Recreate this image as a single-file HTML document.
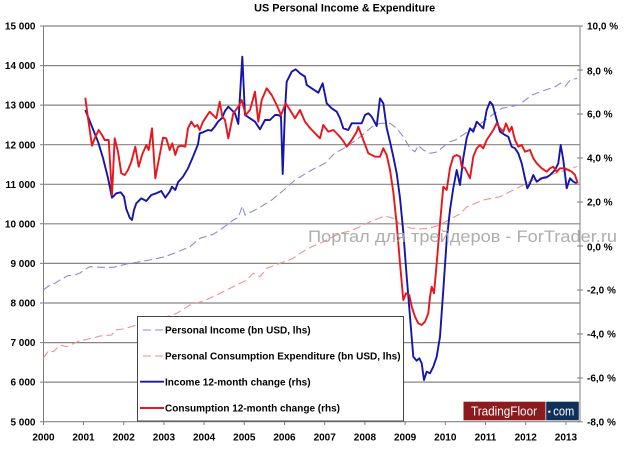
<!DOCTYPE html>
<html><head><meta charset="utf-8"><style>
html,body{margin:0;padding:0;background:#fff;}
svg{display:block;}
text{font-family:"Liberation Sans",Arial,sans-serif;}
</style></head><body>
<svg width="624" height="451" viewBox="0 0 624 451" xmlns="http://www.w3.org/2000/svg">
<rect width="624" height="451" fill="#fff"/>
<text x="344.7" y="11.5" font-size="10.8" font-weight="bold" text-anchor="middle" textLength="181" lengthAdjust="spacingAndGlyphs" fill="#000">US Personal Income &amp; Expenditure</text>
<g stroke="#858585" stroke-width="1.2" fill="none">
<line x1="43.5" y1="26" x2="580" y2="26"/>
<line x1="43.5" y1="65.6" x2="580" y2="65.6"/>
<line x1="43.5" y1="105.1" x2="580" y2="105.1"/>
<line x1="43.5" y1="144.7" x2="580" y2="144.7"/>
<line x1="43.5" y1="184.3" x2="580" y2="184.3"/>
<line x1="43.5" y1="223.8" x2="580" y2="223.8"/>
<line x1="43.5" y1="263.4" x2="580" y2="263.4"/>
<line x1="43.5" y1="303" x2="580" y2="303"/>
<line x1="43.5" y1="342.6" x2="580" y2="342.6"/>
<line x1="43.5" y1="382.1" x2="580" y2="382.1"/>
<line x1="43.5" y1="421.7" x2="580" y2="421.7"/>
</g>
<g stroke="#808080" stroke-width="1" fill="none">
<line x1="43.5" y1="26" x2="43.5" y2="421.7"/>
<line x1="580" y1="26" x2="580" y2="421.7"/>
<path d="M40 26H43.5M40 65.6H43.5M40 105.1H43.5M40 144.7H43.5M40 184.3H43.5M40 223.8H43.5M40 263.4H43.5M40 303H43.5M40 342.6H43.5M40 382.1H43.5M40 421.7H43.5"/>
<path d="M577 26H583M577 70H583M577 114H583M577 158H583M577 202H583M577 246H583M577 290H583M577 334H583M577 378H583M577 421.7H583"/>
<path d="M43.5 421.7V425M83.5 421.7V425M123.7 421.7V425M163.9 421.7V425M204.1 421.7V425M244.3 421.7V425M284.5 421.7V425M324.7 421.7V425M364.9 421.7V425M405.1 421.7V425M445.3 421.7V425M485.5 421.7V425M525.7 421.7V425M565.9 421.7V425"/>
</g>
<g font-size="10" font-weight="bold" fill="#000" text-anchor="end">
<text x="35.5" y="29.6">15 000</text>
<text x="35.5" y="69.2">14 000</text>
<text x="35.5" y="108.7">13 000</text>
<text x="35.5" y="148.3">12 000</text>
<text x="35.5" y="187.9">11 000</text>
<text x="35.5" y="227.4">10 000</text>
<text x="35.5" y="267">9 000</text>
<text x="35.5" y="306.6">8 000</text>
<text x="35.5" y="346.2">7 000</text>
<text x="35.5" y="385.7">6 000</text>
<text x="35.5" y="425.3">5 000</text>
</g>
<g font-size="10" font-weight="bold" fill="#000">
<text x="587" y="29.6">10,0 %</text>
<text x="587" y="74.6">8,0 %</text>
<text x="587" y="117.3">6,0 %</text>
<text x="587" y="161.3">4,0 %</text>
<text x="587" y="205.3">2,0 %</text>
<text x="587" y="250.3">0,0 %</text>
<text x="587" y="293.6">-2,0 %</text>
<text x="587" y="337.6">-4,0 %</text>
<text x="587" y="381.3">-6,0 %</text>
<text x="587" y="425.3">-8,0 %</text>
</g>
<g font-size="10" font-weight="bold" fill="#000" text-anchor="middle">
<text x="43.5" y="440.3">2000</text>
<text x="83.5" y="440.3">2001</text>
<text x="123.7" y="440.3">2002</text>
<text x="163.9" y="440.3">2003</text>
<text x="204.1" y="440.3">2004</text>
<text x="244.3" y="440.3">2005</text>
<text x="284.5" y="440.3">2006</text>
<text x="324.7" y="440.3">2007</text>
<text x="364.9" y="440.3">2008</text>
<text x="405.1" y="440.3">2009</text>
<text x="445.3" y="440.3">2010</text>
<text x="485.5" y="440.3">2011</text>
<text x="525.7" y="440.3">2012</text>
<text x="565.9" y="440.3">2013</text>
</g>
<polyline fill="none" stroke="#8c8cd8" stroke-width="1.1" stroke-dasharray="8,4" points="43.3,290 50,285 55,283.3 60,280 68.3,275.5 75,275 80,273 86.7,268.3 90,266.7 100,267.3 113.3,267.3 126.7,264 140,261.7 153.3,259.3 165,256.7 176.7,252.3 190,246.7 200,238.3 213.3,234.3 220,230 226.7,225 233.3,220 238.3,217.5 242.3,206 245,215 258.3,208.3 271.7,200 283.3,190.5 295,180 311.7,170 325,163.3 335,153 346.7,146.7 360,137 371.7,127 380,123.3 390,123.3 396.7,128.3 403.3,136.7 410,148.3 415,151.7 418.3,145.5 423.3,150 430,153.3 436.7,152 443.3,146.7 450,141.7 455.3,140 465.3,133.3 478.7,125 492,115 502,108.3 518.7,105 525.3,100 532,95 545.3,90 555.3,86.7 560.3,83.3 565.3,86 570.3,80 577,78.3"/>
<polyline fill="none" stroke="#f09090" stroke-width="1.1" stroke-dasharray="8,4" points="43.3,358.3 48.3,351 53.3,351.7 60,345 66.7,346.7 80,340.7 93.3,338 100,336 111.7,335 115,330 123.3,329 136.7,325 150,320 166.7,316.7 176.7,313.3 190,305 203.3,301 216.7,295 220,293.3 233.3,286.7 246.7,280 253.3,273.3 260,276.7 266.7,268.3 280,263.3 293.3,258.3 300,253.3 311.7,246.7 320,243.3 340,233.3 350,231 360,226.7 370,221.7 385,216 393.3,218.3 400,224 410,228 420,229 430,228 440,225 450,219 460,214 466.7,207 483.3,200 500,196.7 516.7,188.3 533.3,180 550,175 566.7,170 577,166.5"/>
<polyline fill="none" stroke="#1515aa" stroke-width="1.9" stroke-linejoin="round" points="85.3,110 91.3,125 98,141.7 103,158 108,178 112,197.7 116.3,193.3 120.7,192.3 124,196.7 126.3,209 129.7,217.7 132,220 134,210 136.3,203.3 141.3,198.3 146.3,201 151.3,195 156.3,193.3 161.3,191 165.3,197.7 169.7,191.7 172,186.7 175.3,190 178,182.3 183,176.7 188,168.3 193,156.7 198,144.3 199.7,133.3 203,132.3 208,130 211.3,130.7 214.7,126.7 218,121.7 222,118 225,111 228.3,106.7 231.7,110 235,113.3 238.3,124 242.3,56.7 245,115 250,118.3 255,121.7 260,129.3 265,120 270,120 275,115 278.3,115 281,116.7 282.7,174 285,110 286.7,81.7 291.7,71.7 295.7,69.3 300,73.3 305,76.7 306.7,85 311.7,88.3 318.3,92.7 322.7,83.3 326.7,103.3 331.7,108.3 336.7,111.7 340,118.3 343.3,128.3 348.3,130 351.7,123.3 356.7,123.3 361.7,123.3 365,115 368.3,113.3 371.7,116.7 376.7,126 380,98.3 383.3,103.3 386.7,128 390.3,143 393.3,156.7 396.7,173.3 400,198 403.3,232 406.7,276.7 410,316.7 413.3,356.7 416.7,360.7 419.3,358.3 421.7,363.3 424,380 426.7,371.7 430,373.3 433.3,366.7 436.7,356.7 440,336.7 443.3,290 446.7,240 450,210 453.3,188 456.7,170 460,185 463.3,158 466.7,138 470,128.3 473.3,131.7 476.7,121.7 480,125 483.3,128.3 486.7,110 490,101.7 492.7,105 496.7,120 500,131.7 505,135 508.3,136.7 511.7,146.7 515,148.3 518.3,153.3 521.7,163.3 525,178.3 527.3,188.3 530,183.3 533.3,175 536.7,181.7 541.7,178.3 546.7,177.3 550,175 555,170 558.3,163.3 560.7,145 563.3,160 566.7,188.3 570,178.3 573.3,181.7 576.7,183.3"/>
<polyline fill="none" stroke="#e8161c" stroke-width="1.9" stroke-linejoin="round" points="85.3,97.7 88,118.3 92,145.7 94.7,138.3 98.7,130 102,135 104.7,140 108.7,140 112,195 114.7,138.3 118,151.7 121.3,173.3 124.7,175 128,170 131.3,161.7 135.3,146.7 138.7,166.7 142,155 146.3,145 148.7,150 152,128.3 155.3,178.3 159.7,155 163,137.7 166.3,138.3 169.7,150 172.3,143.3 175.3,155 178,146.7 181.3,145.7 185.3,146.7 188,128.3 191.3,121.7 194.7,126.7 197.3,125 199.7,130 203,121.7 206.3,116.7 209.7,111.7 213,115 216.3,118.3 219.7,101.7 222.3,116.7 225,120 228.3,138.3 233.3,113.3 238.3,106.7 241.7,100 245.7,115 250,110 255,91.7 258.3,121.7 261.7,100 266.7,88.3 271.7,95 276.7,105 281,115 285.7,103.3 290,110 295,118.3 300,110 305,121.7 310,128 315,133.3 320,138.3 323.3,125 328.3,131.7 333.3,130 338.3,135 343.3,141 346.7,146.7 351.7,140 356.7,131.7 358.3,126.7 363.3,140 368.3,153.3 375,156.7 380,156.7 383.3,148.3 386.7,155 390,170 393.3,192 396.7,224 400,263.3 403.3,300 406,293.3 409.3,295 411.7,306.7 415,316.7 418.3,323.3 421.7,325 425,321.7 428.3,313.3 430,296.7 431.7,286.7 434,293.3 436.7,263.3 440,223.3 443.3,186.7 446.7,190 450,168 453.3,156.7 456.7,155 460,156.7 461.7,166.7 465,168 470,178.3 473.3,156.7 476.7,148.3 480,145 483.3,148.3 486.7,140 490,135 493.3,130 496.7,123.3 500,128.3 503.3,131.7 506,123.3 509.3,131.7 511.7,126.7 515,140 518.3,146.7 521.7,145 525,151.7 530,150 533.3,158.3 536.7,163.3 541.7,168.3 546.7,171.7 550,168.3 553.3,166.7 556.7,171.7 560,168.3 565,168.3 568.3,170 571.7,171.7 575,175 577.7,183.3"/>
<rect x="137.5" y="316.5" width="266" height="104.5" fill="#fff" stroke="#444" stroke-width="1"/>
<line x1="143" y1="330" x2="163" y2="330" stroke="#8c8cd8" stroke-width="1.1" stroke-dasharray="8,4"/>
<line x1="143" y1="356" x2="163" y2="356" stroke="#f09090" stroke-width="1.1" stroke-dasharray="8,4"/>
<line x1="140" y1="381.7" x2="164" y2="381.7" stroke="#1515aa" stroke-width="1.9"/>
<line x1="140" y1="408" x2="164" y2="408" stroke="#e8161c" stroke-width="1.9"/>
<g font-size="10" font-weight="bold" fill="#000">
<text x="165" y="333.6">Personal Income (bn USD, lhs)</text>
<text x="165" y="359.6">Personal Consumption Expenditure (bn USD, lhs)</text>
<text x="165" y="385.3">Income 12-month change (rhs)</text>
<text x="165" y="411.6">Consumption 12-month change (rhs)</text>
</g>
<text x="308" y="242" font-size="17" fill="#a4a4a4" fill-opacity="0.9" textLength="309" lengthAdjust="spacingAndGlyphs">Портал для трейдеров - ForTrader.ru</text>
<rect x="463.5" y="401.7" width="82" height="18.6" fill="#8c1a1e"/>
<rect x="546.2" y="401.7" width="32.6" height="18.6" fill="#10305a"/>
<circle cx="549.3" cy="411.7" r="1.2" fill="#fff"/>
<text x="471" y="415.5" font-size="12.5" fill="#fff" textLength="66" lengthAdjust="spacingAndGlyphs">TradingFloor</text>
<text x="553.3" y="415.5" font-size="12.5" fill="#fff" textLength="21" lengthAdjust="spacingAndGlyphs">com</text>
</svg>
</body></html>
